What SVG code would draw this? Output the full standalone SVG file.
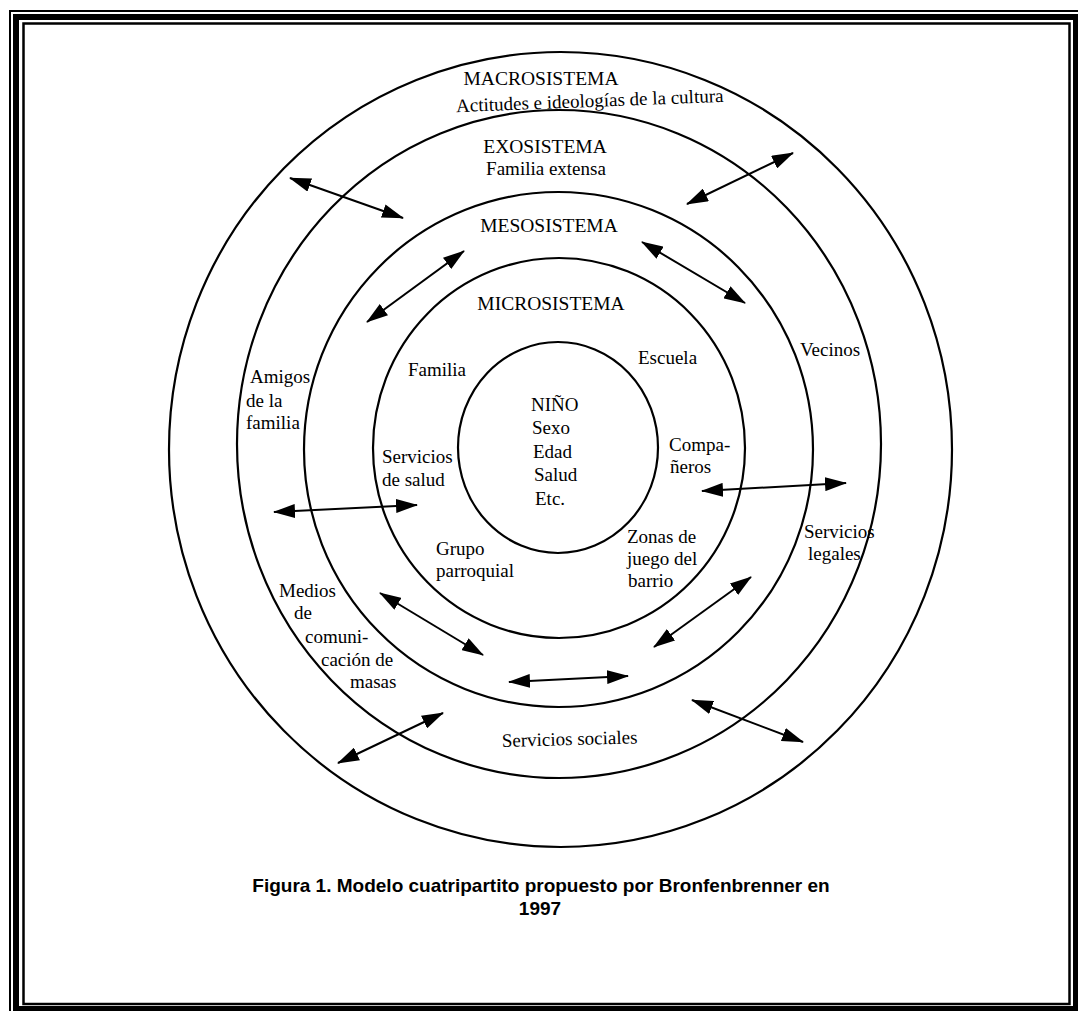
<svg xmlns="http://www.w3.org/2000/svg" width="1078" height="1011" viewBox="0 0 1078 1011">
  <style>
    .ring { fill: none; stroke: #000; stroke-width: 2.2; }
    .lbl { font-family: "Liberation Serif", "Times New Roman", serif; font-size: 19px; fill: #000; }
    .cap { font-family: "Liberation Serif", "Times New Roman", serif; font-size: 19.5px; fill: #000; }
    .mid { text-anchor: middle; }
    .conn { stroke: #000; stroke-width: 2; fill: none; marker-start: url(#ah); marker-end: url(#ah); }
    .fig { font-family: "Liberation Sans", Arial, sans-serif; font-weight: bold; font-size: 19px; fill: #000; text-anchor: middle; }
  </style>
  <defs>
    <marker id="ah" markerUnits="userSpaceOnUse" markerWidth="22" markerHeight="14" refX="21" refY="7" orient="auto-start-reverse">
      <path d="M0,0 L22,7 L0,14 Z" fill="#000"/>
    </marker>
  </defs>
  <rect width="1078" height="1011" fill="#fff"/>
  <g id="frame" fill="none" stroke="#000">
    <rect x="10" y="11" width="1072" height="1004" stroke-width="2"/>
    <rect x="16" y="17" width="1060" height="992" stroke-width="6"/>
    <rect x="23.5" y="23.5" width="1046" height="980.5" stroke-width="2.5"/>
  </g>

  <g id="macrosistema">
    <ellipse class="ring" cx="560.5" cy="449.5" rx="391.5" ry="397.5"/>
    <text class="cap mid" x="541" y="85">MACROSISTEMA</text>
    <text class="lbl mid" x="590" y="107" transform="rotate(-2.2 590 107)">Actitudes e ideologías de la cultura</text>
  </g>

  <g id="exosistema">
    <ellipse class="ring" cx="559" cy="444" rx="322" ry="334"/>
    <text class="cap mid" x="545" y="153">EXOSISTEMA</text>
    <text class="lbl mid" x="546" y="175">Familia extensa</text>
    <text class="lbl" x="250" y="383">Amigos</text>
    <text class="lbl" x="246" y="407">de la</text>
    <text class="lbl" x="246" y="429">familia</text>
    <text class="lbl" x="800" y="356">Vecinos</text>
    <text class="lbl" x="804" y="538">Servicios</text>
    <text class="lbl" x="808" y="560">legales</text>
    <text class="lbl" x="279" y="597">Medios</text>
    <text class="lbl" x="294" y="619">de</text>
    <text class="lbl" x="305" y="643">comuni-</text>
    <text class="lbl" x="321" y="666">cación de</text>
    <text class="lbl" x="350" y="688">masas</text>
    <text class="lbl" x="502" y="747" transform="rotate(-1.5 502 747)">Servicios sociales</text>
  </g>

  <g id="mesosistema">
    <ellipse class="ring" cx="558.5" cy="449.5" rx="254.5" ry="257.5"/>
    <text class="cap mid" x="549" y="232">MESOSISTEMA</text>
  </g>

  <g id="microsistema">
    <ellipse class="ring" cx="559" cy="448" rx="186" ry="190"/>
    <text class="cap mid" x="551" y="310">MICROSISTEMA</text>
    <text class="lbl" x="408" y="376">Familia</text>
    <text class="lbl" x="638" y="364">Escuela</text>
    <text class="lbl" x="382" y="463">Servicios</text>
    <text class="lbl" x="382" y="486">de salud</text>
    <text class="lbl" x="669" y="451">Compa-</text>
    <text class="lbl" x="670" y="473">ñeros</text>
    <text class="lbl" x="436" y="555">Grupo</text>
    <text class="lbl" x="436" y="577">parroquial</text>
    <text class="lbl" x="627" y="543">Zonas de</text>
    <text class="lbl" x="627" y="565">juego del</text>
    <text class="lbl" x="628" y="587">barrio</text>
  </g>

  <g id="nino">
    <ellipse class="ring" cx="558" cy="447.5" rx="100" ry="105.5"/>
    <text class="lbl" x="531" y="411">NIÑO</text>
    <text class="lbl" x="532" y="434">Sexo</text>
    <text class="lbl" x="533" y="457.5">Edad</text>
    <text class="lbl" x="534" y="481">Salud</text>
    <text class="lbl" x="535" y="505">Etc.</text>
  </g>

  <g id="connectors">
    <line class="conn" x1="290" y1="178" x2="403" y2="218"/>
    <line class="conn" x1="687" y1="204" x2="793" y2="153"/>
    <line class="conn" x1="367" y1="322" x2="464" y2="251"/>
    <line class="conn" x1="642" y1="242" x2="745" y2="303"/>
    <line class="conn" x1="702" y1="491" x2="846" y2="483"/>
    <line class="conn" x1="274" y1="512" x2="417" y2="505"/>
    <line class="conn" x1="380" y1="593" x2="483" y2="655"/>
    <line class="conn" x1="751" y1="577" x2="654" y2="647"/>
    <line class="conn" x1="509" y1="682" x2="628" y2="676"/>
    <line class="conn" x1="338" y1="763" x2="443" y2="713"/>
    <line class="conn" x1="692" y1="700" x2="803" y2="742"/>
  </g>

  <g id="caption">
    <text class="fig" x="541" y="892">Figura 1. Modelo cuatripartito propuesto por Bronfenbrenner en</text>
    <text class="fig" x="540" y="915">1997</text>
  </g>
</svg>
